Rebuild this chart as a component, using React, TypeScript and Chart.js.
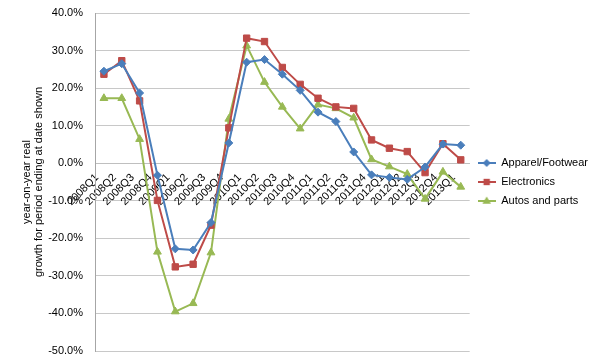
import React, { useEffect, useRef } from "react";
import { Chart, registerables } from "chart.js";

Chart.register(...registerables);

const categories = [
  "2008Q1", "2008Q2", "2008Q3", "2008Q4",
  "2009Q1", "2009Q2", "2009Q3", "2009Q4",
  "2010Q1", "2010Q2", "2010Q3", "2010Q4",
  "2011Q1", "2011Q2", "2011Q3", "2011Q4",
  "2012Q1", "2012Q2", "2012Q3", "2012Q4",
  "2013Q1",
];

const apparelFootwear = [
  24.5, 26.5, 18.7, -3.2, -22.8, -23.1, -15.8, 5.4, 26.9, 27.6, 23.7, 19.4,
  13.6, 11.1, 3.0, -3.1, -3.8, -4.3, -1.0, 5.1, 4.8,
];
const electronics = [
  23.7, 27.3, 16.6, -9.9, -27.6, -26.9, -16.5, 9.4, 33.3, 32.4, 25.5, 21.0,
  17.3, 15.0, 14.6, 6.2, 4.0, 3.1, -2.5, 5.2, 0.9,
];
const autosAndParts = [
  17.3, 17.3, 6.4, -23.6, -39.5, -37.3, -23.8, 11.8, 31.3, 21.6, 15.0, 9.2,
  15.6, 14.6, 12.1, 1.0, -0.9, -2.9, -9.5, -2.3, -6.3,
];

const seriesNames = ["Apparel/Footwear", "Electronics", "Autos and parts"];
const seriesColors = ["#4A7EBB", "#BE4B48", "#98B954"];
const seriesMarkers = ["rectRot", "rect", "triangle"];
const seriesRadius = [4, 4.5, 4.5];

const yTitle = ["year-on-year real", "growth for period ending at date shown"];
const yMin = -50;
const yMax = 40;
const yStep = 10;

const FONT = "'Liberation Sans', Arial, sans-serif";

function legendImage(color: string, marker: string, radius: number) {
  const c = document.createElement("canvas");
  c.width = 18;
  c.height = 12;
  const ctx = c.getContext("2d")!;
  ctx.strokeStyle = color;
  ctx.lineWidth = 2;
  ctx.beginPath();
  ctx.moveTo(0, 6);
  ctx.lineTo(18, 6);
  ctx.stroke();
  ctx.fillStyle = color;
  ctx.beginPath();
  const x = 9, y = 6;
  if (marker === "rect") {
    const s = radius * Math.SQRT1_2;
    ctx.rect(x - s, y - s, 2 * s, 2 * s);
  } else if (marker === "rectRot") {
    ctx.moveTo(x, y - radius);
    ctx.lineTo(x + radius, y);
    ctx.lineTo(x, y + radius);
    ctx.lineTo(x - radius, y);
    ctx.closePath();
  } else {
    const r = radius;
    ctx.moveTo(x, y - r);
    ctx.lineTo(x + r * 0.95, y + r * 0.6);
    ctx.lineTo(x - r * 0.95, y + r * 0.6);
    ctx.closePath();
  }
  ctx.fill();
  return c;
}

export default function App() {
  const ref = useRef<HTMLCanvasElement | null>(null);

  useEffect(() => {
    if (!ref.current) return;
    const values = [apparelFootwear, electronics, autosAndParts];
    const images = seriesNames.map((_, i) =>
      legendImage(seriesColors[i], seriesMarkers[i], seriesRadius[i])
    );
    const chart = new Chart(ref.current, {
      type: "line",
      data: {
        labels: categories,
        datasets: seriesNames.map((name, i) => ({
          label: name,
          data: values[i],
          borderColor: seriesColors[i],
          backgroundColor: seriesColors[i],
          borderWidth: 2,
          pointStyle: seriesMarkers[i] as any,
          pointRadius: seriesRadius[i],
          pointBackgroundColor: seriesColors[i],
          pointBorderColor: seriesColors[i],
          pointBorderWidth: 1,
          tension: 0,
          fill: false,
        })),
      },
      options: {
        animation: false,
        responsive: true,
        maintainAspectRatio: false,
        layout: { padding: { left: 0, top: 13, right: 2, bottom: 11 } },
        font: { family: FONT, size: 11 },
        plugins: {
          tooltip: { enabled: false },
          legend: {
            position: "right",
            align: "center",
            labels: {
              usePointStyle: true,
              pointStyleWidth: 18,
              boxHeight: 11,
              padding: 8,
              color: "#000",
              font: { family: FONT, size: 11 },
              generateLabels: (ch: any) =>
                ch.data.datasets.map((ds: any, i: number) => ({
                  text: ds.label,
                  fillStyle: ds.borderColor,
                  strokeStyle: ds.borderColor,
                  lineWidth: 0,
                  pointStyle: images[i],
                  hidden: false,
                  datasetIndex: i,
                  fontColor: "#000",
                })),
            },
          },
        },
        scales: {
          x: {
            type: "category",
            position: { y: 0 } as any,
            offset: true,
            grid: { display: false, drawTicks: false },
            border: { display: true, color: "#BFBFBF", width: 1 },
            ticks: {
              autoSkip: false,
              minRotation: 45,
              maxRotation: 45,
              padding: 8,
              labelOffset: -7,
              color: "#000",
              font: { family: FONT, size: 11 },
            },
          },
          y: {
            type: "linear",
            min: yMin,
            max: yMax,
            afterFit: (scale: any) => {
              scale.width = 95;
              scale.paddingTop = 0;
              scale.paddingBottom = 0;
            },
            grid: {
              color: "#C8C8C8",
              lineWidth: 1,
              drawTicks: false,
            },
            border: { display: true, color: "#A6A6A6", width: 1 },
            ticks: {
              stepSize: yStep,
              padding: 12,
              color: "#000",
              font: { family: FONT, size: 11 },
              callback: (v: any) => Number(v).toFixed(1) + "%",
            },
            title: {
              display: true,
              text: yTitle,
              color: "#000",
              font: { family: FONT, size: 11, lineHeight: 1.1 },
              padding: { top: 21, bottom: 0 },
            },
          },
        },
      },
    });
    return () => chart.destroy();
  }, []);

  return (
    <div
      style={{
        position: "fixed",
        left: 0,
        top: 0,
        width: 600,
        height: 362,
        background: "#fff",
      }}
    >
      <canvas ref={ref} />
    </div>
  );
}
